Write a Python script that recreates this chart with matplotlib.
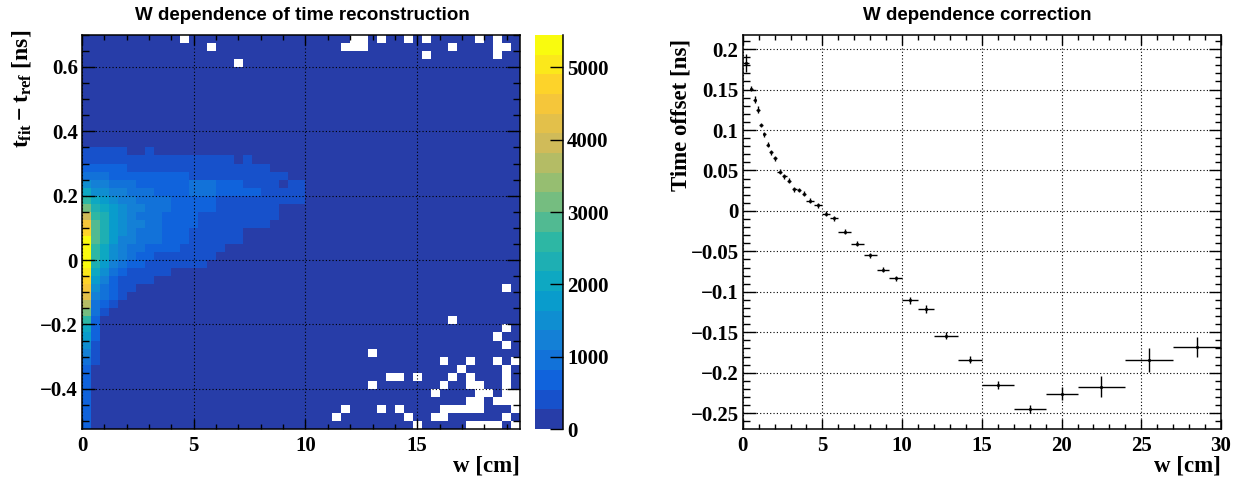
import numpy as np
import matplotlib
matplotlib.use("Agg")
import matplotlib.pyplot as plt
from matplotlib.colors import ListedColormap, BoundaryNorm, LinearSegmentedColormap
from matplotlib.ticker import MultipleLocator, FuncFormatter

# ---------------- data: left 2D histogram ----------------
w_min, w_max, w_bins = 0.0, 19.6, 49          # w [cm]
t_min, t_max, t_bins = -0.525, 0.7, 49        # t_fit - t_ref [ns]
z_max = 5450.0
n_levels = 20
band_chars = "0123456789abcdefghij"           # colour band read for each cell

# colourful core: row index (0 = lowest t bin) -> bands of the first columns
core_rows = {
    34: "11111001",
    33: "1111111111111111101",
    32: "222221111111111111111",
    31: "33322222222211111111111",
    30: "5443332222223332221111011",
    29: "7554433322223332222211111",
    28: "9765443333222221111111111",
    27: "b876544333222221111111",
    26: "e986543332222111111111",
    25: "ga8654433222211111111",
    24: "ha8654333222111111",
    23: "ja8644333222111111",
    22: "j975433222211111",
    21: "j97543221111111",
    20: "j8643221111111",
    19: "i753211111",
    18: "h6421111",
    17: "g53211",
    16: "f4321",
    15: "d321",
    14: "b31",
    13: "92",
    12: "72",
    11: "62",
    10: "51",
    9: "41",
    8: "31",
    7: "2", 6: "2", 5: "2", 4: "2", 3: "2", 2: "2", 1: "2", 0: "2",
}

# empty (white) cells: row index -> column indices
empty_cells = {
    48: [11, 30, 31, 33, 36, 38, 44, 46],
    47: [14, 29, 30, 31, 41, 46, 47],
    46: [38, 46],
    45: [17],
    17: [47],
    13: [41],
    12: [47],
    11: [46],
    10: [47],
    9: [32],
    8: [40, 43, 46, 48],
    7: [42, 47],
    6: [34, 35, 37, 41, 43, 47],
    5: [32, 40, 43, 44, 47],
    4: [39, 44, 45, 47, 48],
    3: [43, 44, 46, 47, 48],
    2: [29, 33, 35, 40, 41, 42, 43, 44, 48],
    1: [28, 36, 39, 40, 47],
    0: [37, 43, 44, 45, 46, 48],
}

# ---------------- data: right correction profile ----------------
corr_w = [0.2, 0.55, 0.76, 0.96, 1.15, 1.35, 1.56, 1.77, 2.03, 2.32, 2.62, 2.9,
          3.23, 3.53, 3.85, 4.23, 4.71, 5.2, 5.73, 6.4, 7.2, 8.0, 8.8, 9.6,
          10.5, 11.5, 12.75, 14.25, 16.0, 18.0, 20.0, 22.5, 25.5, 28.5]
corr_w_err = [0.2, 0.1, 0.1, 0.1, 0.1, 0.1, 0.1, 0.1, 0.15, 0.15, 0.15, 0.15,
              0.15, 0.15, 0.15, 0.25, 0.25, 0.25, 0.25, 0.4, 0.4, 0.4, 0.4, 0.4,
              0.5, 0.5, 0.75, 0.75, 1.0, 1.0, 1.0, 1.5, 1.5, 1.5]
corr_offset = [0.183, 0.151, 0.1375, 0.1253, 0.1062, 0.095, 0.082, 0.0725, 0.0651,
               0.0485, 0.0428, 0.0373, 0.027, 0.0258, 0.0212, 0.0126, 0.0072,
               -0.0035, -0.009, -0.0256, -0.0404, -0.0548, -0.0725, -0.0833,
               -0.1105, -0.121, -0.154, -0.184, -0.2156, -0.245, -0.226, -0.217,
               -0.184, -0.168]
corr_offset_err = [0.011, 0.003, 0.004, 0.004, 0.003, 0.003, 0.003, 0.003, 0.003,
                   0.003, 0.003, 0.003, 0.003, 0.003, 0.003, 0.003, 0.003, 0.003,
                   0.003, 0.003, 0.003, 0.003, 0.003, 0.003, 0.004, 0.0047, 0.004,
                   0.0045, 0.005, 0.005, 0.008, 0.0124, 0.015, 0.0124]

# ---------------- build histogram ----------------
level_width = z_max / n_levels
bands = np.zeros((t_bins, w_bins))
for r, s in core_rows.items():
    for c, ch in enumerate(s):
        bands[r, c] = band_chars.index(ch)
counts = (bands + 0.5) * level_width
for r, cols in empty_cells.items():
    for c in cols:
        counts[r, c] = 0.0
counts = np.ma.masked_where(counts <= 0, counts)
x_edges = np.linspace(w_min, w_max, w_bins + 1)
y_edges = np.linspace(t_min, t_max, t_bins + 1)

# ROOT kBird palette
stops = [0.0, 0.125, 0.25, 0.375, 0.5, 0.625, 0.75, 0.875, 1.0]
red = [0.2082, 0.0592, 0.0780, 0.0232, 0.1802, 0.5301, 0.8186, 0.9956, 0.9764]
green = [0.1664, 0.3599, 0.5041, 0.6419, 0.7178, 0.7492, 0.7328, 0.7862, 0.9832]
blue = [0.5293, 0.8684, 0.8385, 0.7914, 0.6425, 0.4662, 0.3499, 0.1968, 0.0539]
bird = LinearSegmentedColormap("bird", {
    "red": [(s, v, v) for s, v in zip(stops, red)],
    "green": [(s, v, v) for s, v in zip(stops, green)],
    "blue": [(s, v, v) for s, v in zip(stops, blue)],
})
band_cols = [bird(min((i + 0.99) / n_levels, 1.0)) for i in range(n_levels)]
cmap = ListedColormap(band_cols)
cmap.set_bad("white")
norm = BoundaryNorm(np.linspace(0, z_max, n_levels + 1), n_levels)

# ---------------- figure ----------------
W, H = 1250, 486
fig = plt.figure(figsize=(W / 100, H / 100), dpi=100)

def fx(px):
    return px / W

def fy(py):
    return 1 - py / H

serif = "Liberation Serif"
sans = "Liberation Sans"
plt.rcParams["mathtext.fontset"] = "custom"
plt.rcParams["mathtext.rm"] = "Liberation Serif:bold"
plt.rcParams["mathtext.it"] = "Liberation Serif:bold"
plt.rcParams["mathtext.bf"] = "Liberation Serif:bold"

tick_fs = 15
label_fs = 16.5
fmt = FuncFormatter(lambda v, p: ("%g" % round(v, 6)).replace("-", "\u2212"))

def style_axes(ax, xmaj, xmin, ymaj, ymin, ylen):
    ax.xaxis.set_major_locator(MultipleLocator(xmaj))
    ax.xaxis.set_minor_locator(MultipleLocator(xmin))
    ax.yaxis.set_major_locator(MultipleLocator(ymaj))
    ax.yaxis.set_minor_locator(MultipleLocator(ymin))
    ax.xaxis.set_major_formatter(fmt)
    ax.yaxis.set_major_formatter(fmt)
    ax.tick_params(which="both", direction="in", top=True, right=True,
                   width=1.0, labelsize=tick_fs)
    ax.tick_params(axis="x", which="major", length=7.5, pad=5)
    ax.tick_params(axis="x", which="minor", length=3.8)
    ax.tick_params(axis="y", which="major", length=ylen, pad=3)
    ax.tick_params(axis="y", which="minor", length=ylen * 0.52)
    for lab in ax.get_xticklabels() + ax.get_yticklabels():
        lab.set_fontfamily(serif)
        lab.set_fontweight("bold")
    for sp in ax.spines.values():
        sp.set_linewidth(1.1)
    ax.grid(True, which="major", color="black", linestyle=(0, (1, 2)), linewidth=0.8)

# left panel
ax1 = fig.add_axes([fx(82), fy(429), fx(438), 394.2 / H])
mesh = ax1.pcolormesh(x_edges, y_edges, counts, cmap=cmap, norm=norm, shading="flat")
ax1.set_xlim(w_min, w_max)
ax1.set_ylim(t_min, t_max)
style_axes(ax1, 5, 1, 0.2, 0.05, 9.5)
ax1.set_xlabel("w [cm]", loc="right", fontsize=label_fs, fontfamily=serif, fontweight="bold")
ax1.xaxis.set_label_coords(1.0, -0.066)
ax1.set_ylabel(r"$t_{fit} - t_{ref}$ [ns]", loc="top", fontsize=label_fs + 0.5,
               fontfamily=serif, fontweight="bold")
ax1.yaxis.set_label_coords(-0.112, 1.012)

# colour bar
cax = fig.add_axes([fx(535), fy(429), fx(28), 394.2 / H])
cb = fig.colorbar(mesh, cax=cax, ticks=[0, 1000, 2000, 3000, 4000, 5000])
cb.outline.set_visible(False)
cax.tick_params(direction="in", length=9.5, width=1.0, labelsize=tick_fs, pad=3,
                right=True, left=False)
cax.minorticks_off()
for lab in cax.get_yticklabels():
    lab.set_fontfamily(serif)
    lab.set_fontweight("bold")
cax.plot([1, 1], [0, 1], transform=cax.transAxes, color="black", lw=1.1, clip_on=False)

# right panel
ax2 = fig.add_axes([fx(742.7), fy(429), fx(478.3), 394.2 / H])
ax2.errorbar(corr_w, corr_offset, xerr=corr_w_err, yerr=corr_offset_err, fmt=".",
             ms=2.5, color="black", ecolor="black", elinewidth=1.0, capsize=0)
ax2.set_xlim(0, 30)
ax2.set_ylim(-0.2695, 0.2177)
style_axes(ax2, 5, 1, 0.05, 0.01, 9.0)
ax2.set_xlabel("w [cm]", loc="right", fontsize=label_fs, fontfamily=serif, fontweight="bold")
ax2.xaxis.set_label_coords(1.0, -0.066)
ax2.set_ylabel("Time offset [ns]", loc="top", fontsize=label_fs, fontfamily=serif,
               fontweight="bold")
ax2.yaxis.set_label_coords(-0.108, 0.99)

# titles
fig.text(fx(302), fy(16), "W dependence of time reconstruction", ha="center", va="center",
         fontsize=13.5, fontfamily=sans, fontweight="bold")
fig.text(fx(977), fy(16), "W dependence correction", ha="center", va="center",
         fontsize=13.5, fontfamily=sans, fontweight="bold")

fig.savefig("out.png", dpi=100)
